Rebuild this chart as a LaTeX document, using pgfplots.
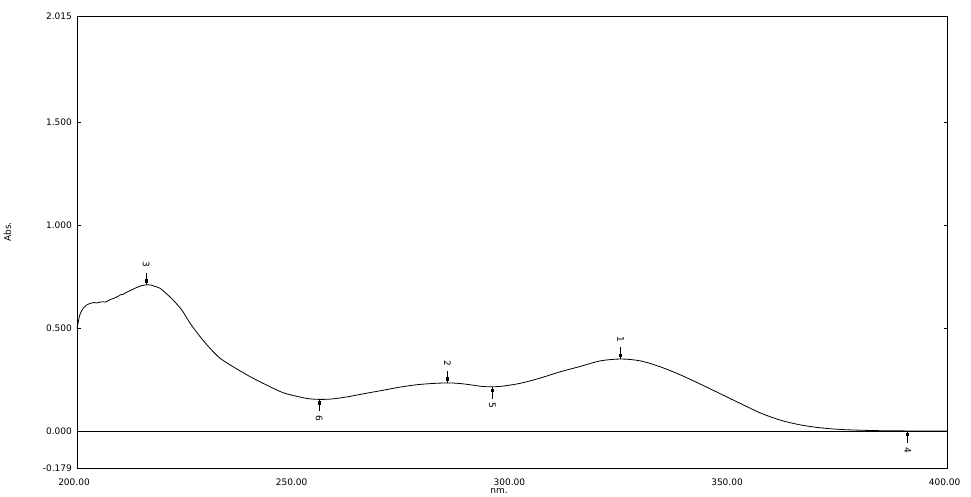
\documentclass[border=0pt]{standalone}
\usepackage{fontspec}
\setmainfont{DejaVu Sans}
\usepackage{pgfplots}
\pgfplotsset{compat=1.18}

\pgfdeclareplotmark{pkup}{%
  \pgfpathmoveto{\pgfpoint{0pt}{0pt}}%
  \pgfpathlineto{\pgfpoint{0pt}{12bp}}%
  \pgfusepathqstroke
  \pgfpathrectangle{\pgfpoint{-1.5bp}{2bp}}{\pgfpoint{3bp}{3.5bp}}%
  \pgfusepathqfill}
\pgfdeclareplotmark{pkdown}{%
  \pgfpathmoveto{\pgfpoint{0pt}{0pt}}%
  \pgfpathlineto{\pgfpoint{0pt}{-12bp}}%
  \pgfusepathqstroke
  \pgfpathrectangle{\pgfpoint{-1.5bp}{-2bp}}{\pgfpoint{3bp}{-3.5bp}}%
  \pgfusepathqfill}

\begin{document}
\begin{tikzpicture}[font=\fontsize{9bp}{10bp}\selectfont]
\path[use as bounding box] (-77bp,-29bp) rectangle (894bp,468bp);
\begin{axis}[
  at={(0,0)}, anchor=south west,
  scale only axis, width=870.7bp, height=452bp,
  xmin=200, xmax=400, ymin=-0.179, ymax=2.015,
  axis line style={line width=0.8bp},
  xtick={200,250,300,350,400},
  xticklabels={200.00,250.00,300.00,350.00,400.00},
  xtick style={draw=none},
  xticklabel style={anchor=base, yshift=-17bp, xshift=-3bp, inner sep=0pt},
  ytick={-0.179,0,0.5,1,1.5,2.015},
  yticklabels={-0.179,0.000,0.500,1.000,1.500,2.015},
  ytick pos=both, yticklabel pos=left,
  tick align=inside, major tick length=4bp,
  ytick style={line width=0.8bp, black},
  yticklabel style={anchor=east, inner sep=0pt, xshift=-5bp},
  xlabel={nm.},
  xlabel style={at={(axis description cs:0.4847,0)}, anchor=base, yshift=-25bp, inner sep=0pt},
  ylabel={Abs.},
  ylabel style={at={(axis description cs:-0.0798,0.522)}, anchor=center, inner sep=0pt},
  clip=false,
]
\addplot[black, line width=0.8bp, forget plot] coordinates {(200,0) (400,0)};
\addplot[black, line width=0.8bp, mark=none, smooth, tension=0.5] coordinates {
(200.0,0.498) (200.3,0.530) (200.6,0.560) (201.0,0.582) (201.5,0.598)
(202.2,0.612) (203.0,0.620) (203.8,0.624) (204.5,0.622) (205.3,0.626)
(206.0,0.628) (206.6,0.626) (207.2,0.634) (207.8,0.640) (208.4,0.644)
(209.0,0.650) (209.5,0.655) (210.0,0.662) (210.6,0.664) (211.2,0.672)
(212.0,0.680) (212.8,0.688) (213.5,0.695) (214.3,0.702) (215.0,0.707)
(215.9,0.710) (217.0,0.709) (218.0,0.702) (219.1,0.693) (220.5,0.668)
(222.1,0.636) (224.1,0.587) (226.0,0.523) (228.3,0.458) (230.6,0.401)
(232.9,0.353) (235.9,0.312) (239.8,0.264) (243.6,0.223) (247.4,0.186)
(250.9,0.167) (253.0,0.158) (255.6,0.154) (258.5,0.156) (262.0,0.166)
(266.0,0.182) (269.7,0.196) (274.3,0.214) (278.0,0.225) (281.5,0.231)
(285.1,0.234) (288.0,0.231) (291.0,0.223) (293.0,0.217) (295.4,0.215)
(298.0,0.219) (301.8,0.232) (306.0,0.255) (311.0,0.288) (315.6,0.314)
(320.2,0.341) (324.9,0.350) (329.4,0.341) (334.0,0.312) (338.6,0.273)
(343.2,0.228) (347.8,0.181) (352.4,0.134) (357.0,0.088) (361.6,0.053)
(366.2,0.030) (370.8,0.016) (375.4,0.008) (380.7,0.004) (385.0,0.002)
(390.8,0.001) (395.0,0.001) (400.0,0.000)
};
\addplot[black, line width=0.8bp, only marks, mark=pkup,
  point meta=explicit symbolic, nodes near coords,
  every node near coord/.style={anchor=center, yshift=20bp, rotate=-90, inner sep=0pt, black}]
  coordinates {(324.9,0.350) [1] (285.1,0.234) [2] (215.9,0.710) [3]};
\addplot[black, line width=0.8bp, only marks, mark=pkdown,
  point meta=explicit symbolic, nodes near coords,
  every node near coord/.style={anchor=center, yshift=-19bp, rotate=-90, inner sep=0pt, black}]
  coordinates {(390.8,0.001) [4] (295.4,0.215) [5] (255.6,0.154) [6]};
\end{axis}
\end{tikzpicture}
\end{document}
